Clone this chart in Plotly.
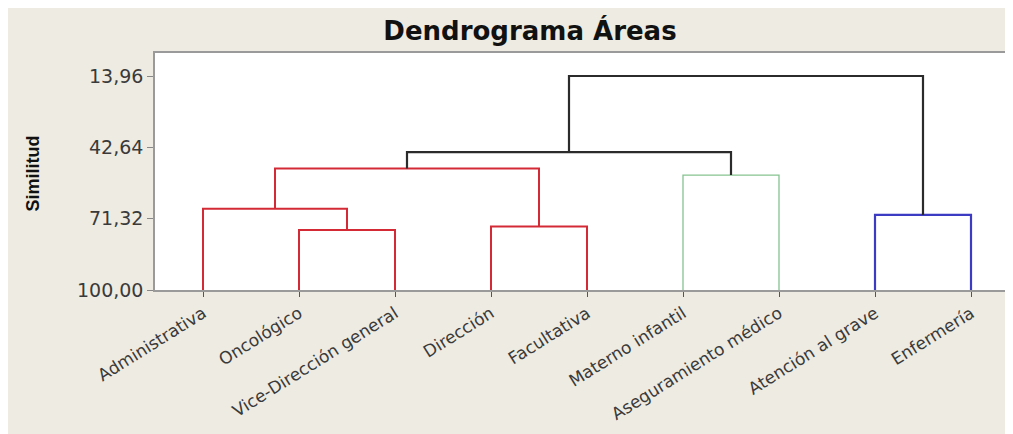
import plotly.graph_objects as go

# ---- data ----
leaves = ["Administrativa", "Oncológico", "Vice-Dirección general", "Dirección",
          "Facultativa", "Materno infantil", "Aseguramiento médico",
          "Atención al grave", "Enfermería"]
# scipy-like linkage: leaves are 0..8, merge k creates cluster 9+k
merge_left = [1, 0, 3, 10, 5, 12, 7, 14]
merge_right = [2, 9, 4, 11, 6, 13, 8, 15]
merge_similarity = [75.87, 67.3, 74.5, 51.1, 53.8, 44.6, 69.8, 13.96]
merge_color = ["#d42a36", "#d42a36", "#d42a36", "#d42a36", "#86c390",
               "#2b2b2b", "#3b3bc4", "#2b2b2b"]
merge_width = [2, 2, 2, 2, 1.3, 2.2, 2.2, 2.2]
y_ticks = [100.0, 71.32, 42.64, 13.96]

# ---- build dendrogram ----
n = len(leaves)
pos = {i: i + 1 for i in range(n)}
height = {i: 100.0 for i in range(n)}

fig = go.Figure()
for k, (a, b, s, c, w) in enumerate(zip(merge_left, merge_right, merge_similarity,
                                         merge_color, merge_width)):
    xa, xb = pos[a], pos[b]
    fig.add_trace(go.Scatter(
        x=[xa, xa, xb, xb], y=[height[a], s, s, height[b]],
        mode="lines", line=dict(color=c, width=w),
        hoverinfo="skip", showlegend=False))
    pos[n + k] = (xa + xb) / 2
    height[n + k] = s

W, H = 1013, 434
L, R, T, B = 147, 0, 45, 152
pw, ph = W - L - R, H - T - B

def px_x(p):
    return (p - L) / pw

def px_y(p):
    return (H - B - p) / ph

beige = "#eeebe2"
fig.update_layout(
    width=W, height=H,
    margin=dict(l=L, r=R, t=T, b=B),
    paper_bgcolor=beige, plot_bgcolor="white",
    separators=",.",
    title=dict(text="<b>Dendrograma Áreas</b>", xref="container", yref="container",
               x=522 / W, y=1 - 23 / H, xanchor="center", yanchor="middle",
               font=dict(family="DejaVu Sans", size=26, color="#111")),
    xaxis=dict(range=[0.5, 0.5 + pw / 96], tickmode="array",
               tickvals=list(range(1, n + 1)), ticktext=leaves,
               tickangle=-32, ticks="outside", ticklen=5, tickcolor="#555",
               tickfont=dict(family="DejaVu Sans", size=17, color="#3a3a3a"),
               showgrid=False, zeroline=False, showline=True, mirror=True,
               linecolor="#9a9a9a", linewidth=2, fixedrange=True),
    yaxis=dict(range=[100, 100 - ph / 2.487], tickmode="array", tickvals=y_ticks,
               tickformat=".2f", ticks="outside", ticklen=6, tickcolor="#888",
               tickfont=dict(family="DejaVu Sans", size=19, color="#3a3a3a"),
               showgrid=False, zeroline=False, showline=True,
               linecolor="#9a9a9a", linewidth=1.5, fixedrange=True),
    annotations=[dict(text="<b>Similitud</b>", xref="paper", yref="paper",
                      x=px_x(24), y=px_y(165.5), showarrow=False, textangle=-90,
                      xanchor="center", yanchor="middle",
                      font=dict(family="Liberation Sans", size=18, color="#111"))],
)

fig.write_html("out.html", config={"displayModeBar": False})
